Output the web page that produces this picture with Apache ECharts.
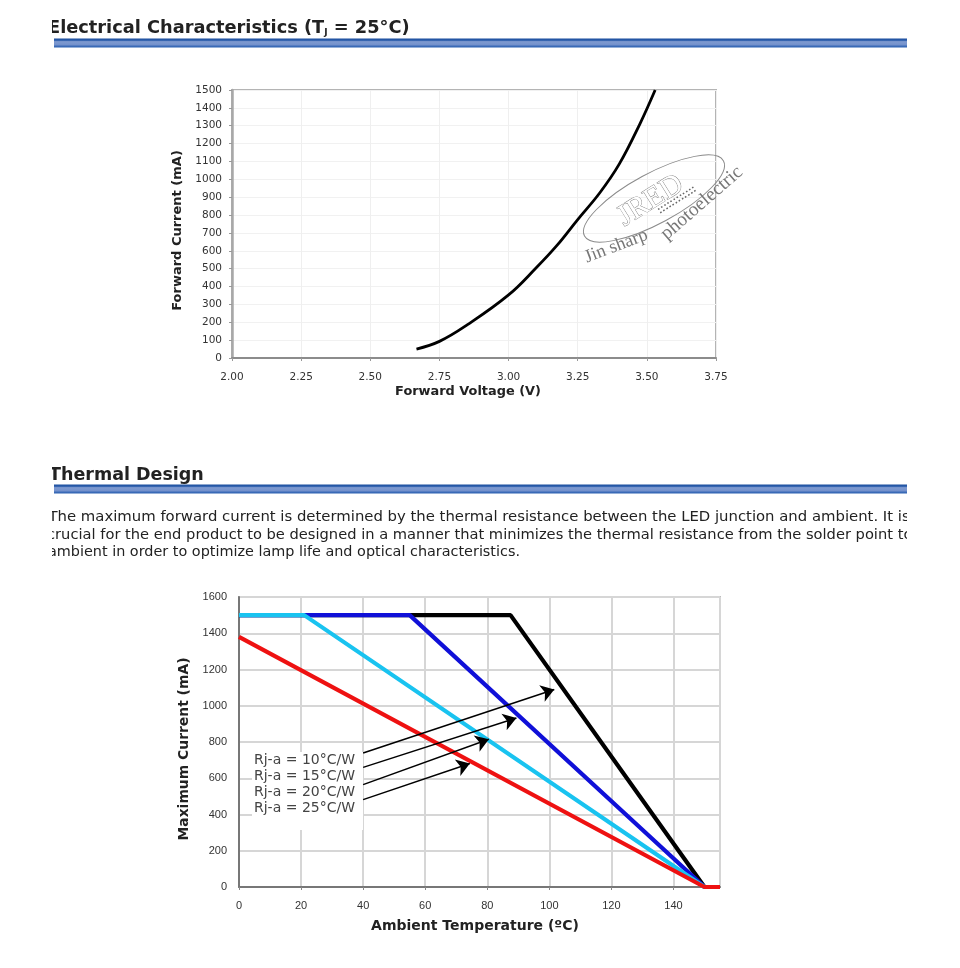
<!DOCTYPE html>
<html><head><meta charset="utf-8">
<style>html,body{margin:0;padding:0;background:#fff}#c{width:960px;height:968px}</style>
<script src="https://cdn.jsdelivr.net/npm/echarts@6/dist/echarts.min.js"></script>
</head><body><div id="c"></div>
<script>
const forwardCurve = [[2.667,50],[2.75,93],[2.85,185],[3.0,353],[3.1,505],[3.175,630],[3.25,775],[3.33,925],[3.4,1085],[3.475,1311],[3.53,1500]];
const rja10 = [[0,1500],[87.5,1500],[150,0],[155,0]];
const rja15 = [[0,1500],[55,1500],[150,0],[155,0]];
const rja20 = [[0,1500],[21,1500],[150,0],[155,0]];
const rja25 = [[0,1380],[150,0],[155,0]];
const arrows = [
  [[40,739],[101.6,1090]],
  [[40,660],[89.4,932]],
  [[40,565],[80.5,815]],
  [[40,482],[74.4,681]]
];
const legendLabels = ['Rj-a = 10°C/W','Rj-a = 15°C/W','Rj-a = 20°C/W','Rj-a = 25°C/W'];
const bodyLines = [
  'The maximum forward current is determined by the thermal resistance between the LED junction and ambient. It is',
  'crucial for the end product to be designed in a manner that minimizes the thermal resistance from the solder point to',
  'ambient in order to optimize lamp life and optical characteristics.'
];
const heading1 = 'Electrical Characteristics (T';
const heading2 = 'Thermal Design';

const V = 'DejaVu Sans', L = 'Liberation Sans';
function banner(y){
  return {type:'rect',z:5,shape:{x:54,y:y,width:853,height:9},
    style:{fill:{type:'linear',x:0,y:0,x2:0,y2:1,colorStops:[
      {offset:0,color:'#1d4f9e'},{offset:0.2,color:'#2a5cab'},{offset:0.35,color:'#7f9ad0'},
      {offset:0.7,color:'#7391cc'},{offset:0.85,color:'#3d6cb8'},{offset:1,color:'#2e62b2'}]}}};
}
const deg = d => d*Math.PI/180;
const graphic = [
  {type:'text',z:5,x:48,y:19,style:{text:heading1+'{s|J} = 25°C)',fill:'#222',font:'bold 17.8px "'+V+'"',
     rich:{s:{fontSize:9,fontWeight:'bold',fontFamily:V,fill:'#222',padding:[9,0,0,0]}}}},
  {type:'text',z:5,x:49,y:466,style:{text:heading2,fill:'#222',font:'bold 17.5px "'+V+'"'}},
  banner(38.5), banner(484.5),
  {type:'rect',z:1,shape:{x:252,y:752,width:111,height:78},style:{fill:'#fff'}},
  {type:'ellipse',z:6,shape:{cx:654,cy:198.5,rx:79,ry:25},rotation:deg(28.4),originX:654,originY:198.5,
     style:{fill:'none',stroke:'#8a8a8a',lineWidth:1}},
  {type:'text',z:6,x:588.6,y:267,rotation:deg(21),style:{text:'Jin sharp',fill:'#777',font:'18.5px "Liberation Serif"',textVerticalAlign:'bottom'}},
  {type:'text',z:6,x:670,y:244,rotation:deg(41),style:{text:'photoelectric',fill:'#777',font:'19.5px "Liberation Serif"',textVerticalAlign:'bottom'}},
  {type:'text',z:6,x:628,y:232.6,rotation:deg(32),style:{text:'JRED',fill:'#fff',stroke:'#777',lineWidth:0.8,font:'30px "Liberation Serif"',textVerticalAlign:'bottom'}},
  {type:'text',z:6,x:661,y:216,rotation:deg(32),style:{text:'::::::::::::',fill:'#666',font:'bold 11px "Liberation Sans"',textVerticalAlign:'bottom'}},
  {type:'rect',z:9,shape:{x:0,y:0,width:52,height:570},style:{fill:'#fff'}},
  {type:'rect',z:9,shape:{x:907,y:0,width:53,height:570},style:{fill:'#fff'}}
];
const bodyScale = [1.032,1.019,1];
bodyLines.forEach((t,i)=>{
  graphic.push({type:'text',z:5,x:[48.5,47,48][i],y:510.5+i*17.5,scaleX:bodyScale[i],style:{text:t,fill:'#222',font:'14.4px "'+V+'"'}});
});
legendLabels.forEach((t,i)=>{
  graphic.push({type:'text',z:3,x:254,y:753.5+i*16,style:{text:t,fill:'#444',font:'14px "'+V+'"'}});
});

const option = {
  animation:false,
  backgroundColor:'#fff',
  graphic:graphic,
  grid:[
    {left:232,top:90,width:484,height:268,show:true,borderColor:'#b4b4b4',borderWidth:2,backgroundColor:'transparent'},
    {left:239,top:597,width:481,height:290,show:true,borderColor:'#bdbdbd',borderWidth:2,backgroundColor:'transparent'}
  ],
  xAxis:[
    {gridIndex:0,type:'value',min:2,max:3.75,interval:0.25,name:'Forward Voltage (V)',nameLocation:'middle',nameGap:27,
     nameTextStyle:{fontFamily:V,fontWeight:'bold',fontSize:12.9,color:'#222',padding:[0,12,0,0]},
     axisLine:{show:true,onZero:false,lineStyle:{color:'#8c8c8c',width:2}},axisTick:{show:true,length:3,lineStyle:{color:'#999'}},
     axisLabel:{fontFamily:V,fontSize:10.5,color:'#333',margin:14,formatter:v=>v.toFixed(2)},
     splitLine:{show:true,lineStyle:{color:'#efefef',width:1}}},
    {gridIndex:1,type:'value',min:0,max:155,interval:20,name:'Ambient Temperature (ºC)',nameLocation:'middle',nameGap:32,
     nameTextStyle:{fontFamily:V,fontWeight:'bold',fontSize:14,color:'#222',padding:[0,9,0,0]},
     axisLine:{show:true,onZero:false,lineStyle:{color:'#777',width:2}},axisTick:{show:true,length:3,lineStyle:{color:'#888'}},
     axisLabel:{fontFamily:L,fontSize:11,color:'#333',margin:13,showMaxLabel:false,formatter:v=>String(v)},
     splitLine:{show:true,lineStyle:{color:'#d6d6d6',width:2}}}
  ],
  yAxis:[
    {gridIndex:0,type:'value',min:0,max:1500,interval:100,name:'Forward Current (mA)',nameLocation:'middle',nameGap:46,
     nameTextStyle:{fontFamily:V,fontWeight:'bold',fontSize:13,color:'#222',padding:[0,13,0,0]},
     axisLine:{show:true,onZero:false,lineStyle:{color:'#a8a8a8',width:2.5}},axisTick:{show:true,length:3,lineStyle:{color:'#999'}},
     axisLabel:{fontFamily:V,fontSize:10.5,color:'#333',margin:10,formatter:v=>String(v)},
     splitLine:{show:true,lineStyle:{color:'#f1f1f1',width:1}}},
    {gridIndex:1,type:'value',min:0,max:1600,interval:200,name:'Maximum Current (mA)',nameLocation:'middle',nameGap:40,
     nameTextStyle:{fontFamily:V,fontWeight:'bold',fontSize:13.9,color:'#222',padding:[0,14,0,0]},
     axisLine:{show:true,onZero:false,lineStyle:{color:'#777',width:2}},axisTick:{show:false},
     axisLabel:{fontFamily:L,fontSize:11,color:'#333',margin:12,formatter:v=>String(v)},
     splitLine:{show:true,lineStyle:{color:'#d6d6d6',width:2}}}
  ],
  series:[
    {type:'line',xAxisIndex:0,yAxisIndex:0,data:forwardCurve,smooth:0.4,showSymbol:false,symbol:'none',lineStyle:{color:'#000',width:2.8}},
    {type:'line',xAxisIndex:1,yAxisIndex:1,data:rja10,showSymbol:false,symbol:'none',clip:false,lineStyle:{color:'#000',width:4.2}},
    {type:'line',xAxisIndex:1,yAxisIndex:1,data:rja15,showSymbol:false,symbol:'none',clip:false,lineStyle:{color:'#1010d8',width:4.2}},
    {type:'line',xAxisIndex:1,yAxisIndex:1,data:rja20,showSymbol:false,symbol:'none',clip:false,lineStyle:{color:'#19c3f0',width:4.2}},
    {type:'line',xAxisIndex:1,yAxisIndex:1,data:rja25,showSymbol:false,symbol:'none',clip:false,lineStyle:{color:'#ee1111',width:4.2}},
    {type:'lines',coordinateSystem:'cartesian2d',xAxisIndex:1,yAxisIndex:1,z:4,polyline:false,
     symbol:['none','arrow'],symbolSize:13,
     lineStyle:{color:'#000',width:1.5,opacity:1,curveness:0},
     data:arrows.map(a=>({coords:a}))}
  ]
};
echarts.init(document.getElementById('c'),null,{renderer:'canvas'}).setOption(option);
</script></body></html>
